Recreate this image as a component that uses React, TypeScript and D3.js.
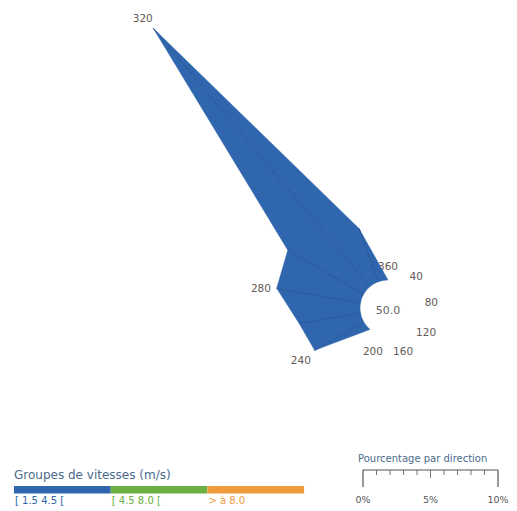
import React from "react";
import * as d3 from "d3";

const directions = [0, 20, 40, 60, 80, 100, 120, 140, 160, 180, 200, 220, 240, 260, 280, 300, 320, 340];
const speed1 = [0, 0, 0, 0, 0, 0, 0, 0, 0, 0, 0, 0, 4.2, 4.6, 6.3, 6.5, 25.0, 4.2];
const speed2 = [0, 0, 0, 0, 0, 0, 0, 0, 0, 0, 0, 0, 0, 0, 0, 0, 0, 0];
const speed3 = [0, 0, 0, 0, 0, 0, 0, 0, 0, 0, 0, 0, 0, 0, 0, 0, 0, 0];
const labelDirections = [0, 40, 80, 120, 160, 200, 240, 280, 320];
const calmLabel = "50.0";
const groupNames = ["[ 1.5 4.5 [", "[ 4.5 8.0 [", "> à 8.0"];
const groupColors = ["#2f66ad", "#6cb043", "#f0993d"];
const scaleTicks = [0, 1, 2, 3, 4, 5, 6, 7, 8, 9, 10];
const scaleLabels = [0, 5, 10];

const W = 517;
const H = 511;
const cx = 388;
const cy = 308;
const R0 = 28;

export default function App() {
  const rScale = d3.scaleLinear().domain([0, 10]).range([0, 135]);
  const aScale = d3.scaleLinear().domain([0, 360]).range([0, 2 * Math.PI]);
  const pt = (deg: number, r: number): [number, number] => {
    const a = aScale(deg);
    return [cx + r * Math.sin(a), cy - r * Math.cos(a)];
  };
  const series = [speed1, speed2, speed3];
  const n = directions.length;
  const cum: number[][] = [];
  series.forEach((s, si) => {
    cum.push(s.map((v, i) => (si === 0 ? 0 : cum[si - 1][i] + series[si - 1][i])));
  });
  const totals = directions.map((_, i) => series.reduce((acc, s) => acc + s[i], 0));

  const wedges: { d: string; color: string; key: string }[] = [];
  series.forEach((s, si) => {
    for (let i = 0; i < n; i++) {
      const j = (i + 1) % n;
      const a0 = directions[i];
      const a1 = directions[j] === 0 ? 360 : directions[j];
      const in0 = R0 + rScale(cum[si][i]);
      const in1 = R0 + rScale(cum[si][j]);
      const out0 = in0 + rScale(s[i]);
      const out1 = in1 + rScale(s[j]);
      if (s[i] === 0 && s[j] === 0) continue;
      const p = d3.path();
      const A = pt(a0, in0);
      const B = pt(a0, out0);
      const C = pt(a1, out1);
      const D = pt(a1, in1);
      p.moveTo(A[0], A[1]);
      p.lineTo(B[0], B[1]);
      p.lineTo(C[0], C[1]);
      p.lineTo(D[0], D[1]);
      if (si === 0) {
        p.arc(cx, cy, R0, aScale(a1) - Math.PI / 2, aScale(a0) - Math.PI / 2, true);
      }
      p.closePath();
      wedges.push({ d: p.toString(), color: groupColors[si], key: `${si}-${i}` });
    }
  });

  const seams = directions
    .map((dir, i) => ({ dir, t: totals[i] }))
    .filter((o) => o.t > 0)
    .map((o) => {
      const A = pt(o.dir, R0);
      const B = pt(o.dir, R0 + rScale(o.t));
      return { A, B, key: o.dir };
    });

  const labelFont = "DejaVu Sans, Verdana, sans-serif";
  const scaleX = d3.scaleLinear().domain([0, 10]).range([363, 498]);

  return (
    <svg width={W} height={H} style={{ position: "absolute", left: 0, top: 0 }}>
      <rect width={W} height={H} fill="#ffffff" />
      {labelDirections.map((dir) => {
        const i = directions.indexOf(dir);
        const [x, y] = pt(dir, R0 + rScale(totals[i]) + 16);
        return (
          <text key={dir} x={x} y={y + 2} textAnchor="middle" dominantBaseline="central" fontFamily={labelFont} fontSize={10.5} fill="#645a57">
            {dir === 0 ? 360 : dir}
          </text>
        );
      })}
      {wedges.map((w) => (
        <path key={w.key} d={w.d} fill={w.color} stroke={w.color} strokeWidth={0.4} />
      ))}
      {seams.map((s) => (
        <line key={s.key} x1={s.A[0]} y1={s.A[1]} x2={s.B[0]} y2={s.B[1]} stroke="#23528f" strokeWidth={0.9} opacity={0.8} />
      ))}
      <text x={cx} y={cy + 2} textAnchor="middle" dominantBaseline="central" fontFamily={labelFont} fontSize={11} fill="#6a6462">
        {calmLabel}
      </text>

      {/* speed legend */}
      <text x={14} y={479} fontFamily={labelFont} fontSize={12} fill="#4a6a8c">
        Groupes de vitesses (m/s)
      </text>
      {groupNames.map((g, i) => {
        const x0 = 14 + i * 96.7;
        return (
          <g key={g}>
            <rect x={x0} y={486} width={96.7} height={7.5} fill={groupColors[i]} />
            <text x={x0 + 1} y={504} fontFamily={labelFont} fontSize={10} fill={groupColors[i]}>
              {g}
            </text>
          </g>
        );
      })}

      {/* percentage scale */}
      <text x={358} y={462} fontFamily={labelFont} fontSize={10} fill="#4a6a8c">
        Pourcentage par direction
      </text>
      <line x1={scaleX(0)} y1={470} x2={scaleX(10)} y2={470} stroke="#555" strokeWidth={1} />
      {scaleTicks.map((t) => {
        const major = t === 0 || t === 10;
        const mid = t === 5;
        return (
          <line
            key={t}
            x1={scaleX(t)}
            y1={470}
            x2={scaleX(t)}
            y2={major ? 487 : mid ? 478 : 475}
            stroke="#555"
            strokeWidth={major ? 1.2 : 0.8}
          />
        );
      })}
      {scaleLabels.map((t) => (
        <text key={t} x={scaleX(t)} y={503} textAnchor="middle" fontFamily={labelFont} fontSize={9.5} fill="#555">
          {t}%
        </text>
      ))}
    </svg>
  );
}
